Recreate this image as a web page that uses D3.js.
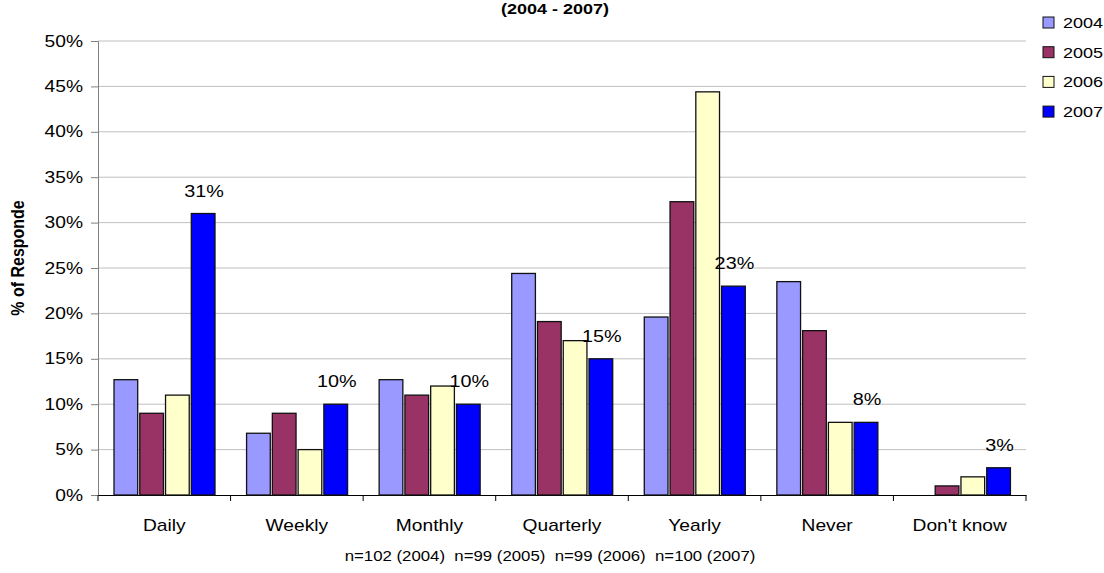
<!DOCTYPE html>
<html>
<head>
<meta charset="utf-8">
<script src="https://cdn.jsdelivr.net/npm/d3@7"></script>
<style>
  html, body { margin: 0; padding: 0; background: #fff; }
  svg text { font-family: "Liberation Sans", Arial, sans-serif; fill: #000; }
</style>
</head>
<body>
<svg id="chart" width="1104" height="573"></svg>
<script>
// Frequency categories and survey years
const categories = ["Daily", "Weekly", "Monthly", "Quarterly", "Yearly", "Never", "Don't know"];
const years = ["2004", "2005", "2006", "2007"];

// Percentage of respondents per year, one value per category
const values2004 = [12.7, 6.8, 12.7, 24.4, 19.6, 23.5, 0];
const values2005 = [9, 9, 11, 19.1, 32.3, 18.1, 1];
const values2006 = [11, 5, 12, 17, 44.4, 8, 2];
const values2007 = [31, 10, 10, 15, 23, 8, 3];

const yTicks = [0, 5, 10, 15, 20, 25, 30, 35, 40, 45, 50];
const colors = ["#9999FF", "#993366", "#FFFFCC", "#0000FF"];

const seriesValues = [values2004, values2005, values2006, values2007];

// Text in this chart is set slightly wide
const SX = 1.2;
const wide = (x, y) => `translate(${x},${y}) scale(${SX},1)`;

const svg = d3.select("#chart");
const margin = { left: 98, right: 1026, top: 41, bottom: 495 };

const x0 = d3.scaleBand().domain(categories).range([margin.left, margin.right]).padding(0);
const x1 = d3.scaleBand().domain(years).range([16, 117]).paddingInner(0.08);
const y = d3.scaleLinear().domain([0, 50]).range([margin.bottom, margin.top]);
const color = d3.scaleOrdinal().domain(years).range(colors);

// Horizontal gridlines
svg.append("g")
  .selectAll("line")
  .data(yTicks.filter(t => t > 0))
  .join("line")
  .attr("x1", margin.left).attr("x2", margin.right)
  .attr("y1", d => y(d)).attr("y2", d => y(d))
  .attr("stroke", "#c0c0c0").attr("stroke-width", 1);

// Y axis
const yAxis = svg.append("g")
  .attr("transform", `translate(${margin.left},0)`)
  .call(d3.axisLeft(y).tickValues(yTicks).tickSize(7).tickFormat(d => d + "%"));
yAxis.select(".domain").attr("stroke", "#808080");
yAxis.selectAll(".tick line").attr("stroke", "#808080");
yAxis.selectAll(".tick text")
  .attr("x", 0)
  .attr("transform", wide(-15, 0))
  .style("font-size", "16px")
  .style("font-family", "'Liberation Sans', Arial, sans-serif")
  .attr("fill", "#000");

// X axis
const xAxis = svg.append("g")
  .attr("transform", `translate(0,${margin.bottom})`)
  .call(d3.axisBottom(x0).tickSize(0).tickPadding(25));
xAxis.select(".domain").attr("stroke", "#000");
xAxis.selectAll(".tick text")
  .attr("y", 0)
  .attr("transform", wide(0, 25))
  .style("font-size", "16px")
  .style("font-family", "'Liberation Sans', Arial, sans-serif")
  .attr("fill", "#000");
// Category separator ticks
svg.append("g")
  .selectAll("line")
  .data(d3.range(categories.length + 1))
  .join("line")
  .attr("x1", i => margin.left + i * x0.step())
  .attr("x2", i => margin.left + i * x0.step())
  .attr("y1", margin.bottom).attr("y2", margin.bottom + 6)
  .attr("stroke", "#000");

// Bars
const groups = svg.append("g")
  .selectAll("g")
  .data(categories)
  .join("g")
  .attr("transform", d => `translate(${x0(d)},0)`);

groups.selectAll("rect")
  .data((c, i) => years.map((yr, j) => ({ year: yr, value: seriesValues[j][i] })))
  .join("rect")
  .filter(d => d.value > 0)
  .attr("x", d => x1(d.year))
  .attr("width", x1.bandwidth())
  .attr("y", d => y(d.value))
  .attr("height", d => y(0) - y(d.value))
  .attr("fill", d => color(d.year))
  .attr("stroke", "#111")
  .attr("stroke-width", 1.3);

// Value labels on the 2007 bars
svg.append("g")
  .selectAll("text")
  .data(categories.map((c, i) => ({ cat: c, value: values2007[i] })))
  .join("text")
  .attr("transform", d => wide(x0(d.cat) + x1("2007") + x1.bandwidth() / 2 + 1, y(d.value) - 17))
  .attr("text-anchor", "middle")
  .style("font-size", "16.5px")
  .text(d => Math.round(d.value) + "%");

// Title (second line, sits at the top edge)
svg.append("text")
  .attr("transform", wide(555, 14))
  .attr("text-anchor", "middle")
  .style("font-size", "15px").style("font-weight", "bold")
  .text("(2004 - 2007)");

// Y axis title
svg.append("text")
  .attr("transform", `translate(24,258) scale(${SX},1) rotate(-90)`)
  .attr("text-anchor", "middle")
  .style("font-size", "16px").style("font-weight", "bold")
  .text("% of Responde");

// Footnote
svg.append("text")
  .attr("transform", wide(550, 561))
  .attr("text-anchor", "middle")
  .attr("xml:space", "preserve")
  .style("white-space", "pre")
  .style("font-size", "14px")
  .text("n=102 (2004)  n=99 (2005)  n=99 (2006)  n=100 (2007)");

// Legend
const legend = svg.append("g")
  .selectAll("g")
  .data(years)
  .join("g")
  .attr("transform", (d, i) => `translate(1043,${17 + i * 29.7})`);
legend.append("rect")
  .attr("width", 11).attr("height", 11)
  .attr("fill", d => color(d))
  .attr("stroke", "#111").attr("stroke-width", 1);
legend.append("text")
  .attr("transform", wide(20, 11))
  .style("font-size", "15px")
  .text(d => d);
</script>
</body>
</html>
